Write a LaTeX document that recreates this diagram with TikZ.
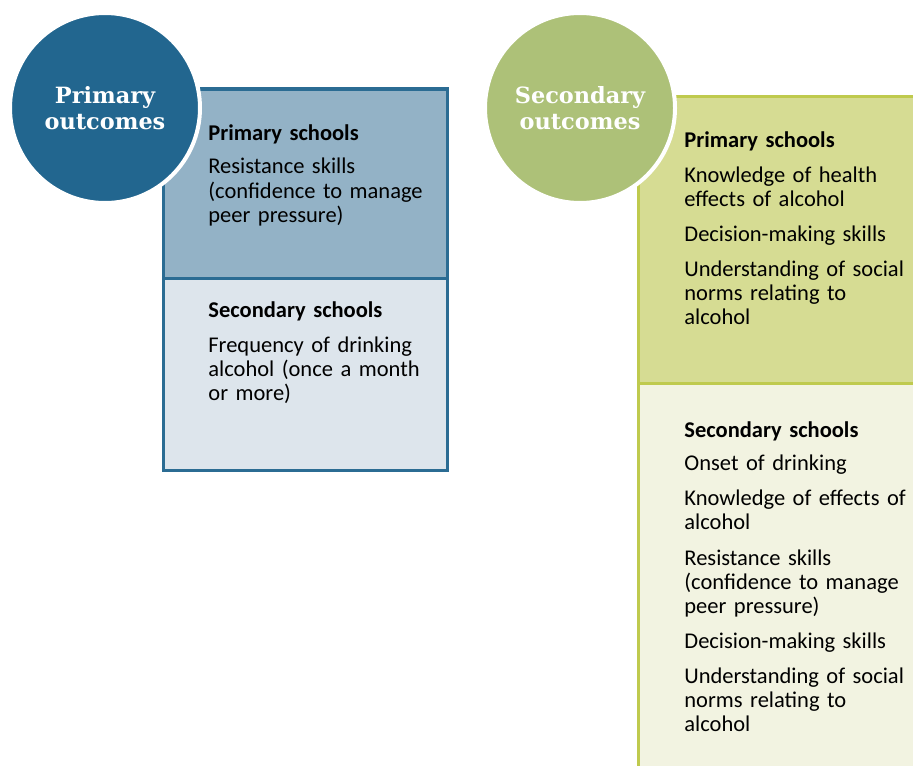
\documentclass[tikz,border=0pt]{standalone}
\usepackage{fontspec}
\setmainfont{Carlito}
\newfontfamily\titlefont{DejaVu Serif}
\definecolor{primblue}{HTML}{22668F}
\definecolor{primline}{HTML}{2B6C93}
\definecolor{primtop}{HTML}{93B2C6}
\definecolor{primbot}{HTML}{DDE5EC}
\definecolor{secgreen}{HTML}{ADC178}
\definecolor{secline}{HTML}{BFCA4E}
\definecolor{sectop}{HTML}{D6DC93}
\definecolor{secbot}{HTML}{F2F3E1}

\begin{document}
\begin{tikzpicture}[x=0.5pt, y=-0.5pt,
    outcome/.style={circle, draw=white, line width=2pt, minimum size=95pt,
        inner sep=0pt, text=white, align=center,
        font=\titlefont\bfseries\fontsize{11.2}{13}\selectfont},
    listtext/.style={anchor=base west, inner sep=0pt, text width=140pt, align=left,
        font=\fontsize{11.25}{12}\selectfont}]
    \useasboundingbox (0, 0) rectangle (913, 765);
    \clip (0, 0) rectangle (913, 765);

    % primary outcomes box
    \filldraw[fill=primtop, draw=primline, line width=1.5pt] (163, 89) rectangle (447, 278);
    \filldraw[fill=primbot, draw=primline, line width=1.5pt] (163, 278) rectangle (447, 470);

    % secondary outcomes box
    \filldraw[fill=sectop, draw=secline, line width=1.5pt] (638, 96) rectangle (940, 383);
    \filldraw[fill=secbot, draw=secline, line width=1.5pt] (638, 383) rectangle (940, 800);

    \node[listtext] (primprim) at (208, 140) {\textbf{Primary schools}\\[5pt]
        Resistance skills\\(confidence to manage\\peer pressure)};
    \node[listtext] (primsec) at (208, 317) {\textbf{Secondary schools}\\[5.5pt]
        Frequency of drinking\\alcohol (once a month\\or more)};

    \node[listtext] (secprim) at (684, 147) {\textbf{Primary schools}\\[5.5pt]
        Knowledge of health\\effects of alcohol\\[5.5pt]
        Decision-making skills\\[5.5pt]
        Understanding of social\\norms relating to\\alcohol};
    \node[listtext] (secsec) at (684, 437) {\textbf{Secondary schools}\\[4.5pt]
        Onset of drinking\\[5.5pt]
        Knowledge of effects of\\alcohol\\[6pt]
        Resistance skills\\(confidence to manage\\peer pressure)\\[5.5pt]
        Decision-making skills\\[5.5pt]
        Understanding of social\\norms relating to\\alcohol};

    % outcome circles
    \node[outcome, fill=primblue] (primout) at (105, 108) {Primary\\outcomes};
    \node[outcome, fill=secgreen] (secout) at (580, 108) {Secondary\\outcomes};
\end{tikzpicture}
\end{document}
